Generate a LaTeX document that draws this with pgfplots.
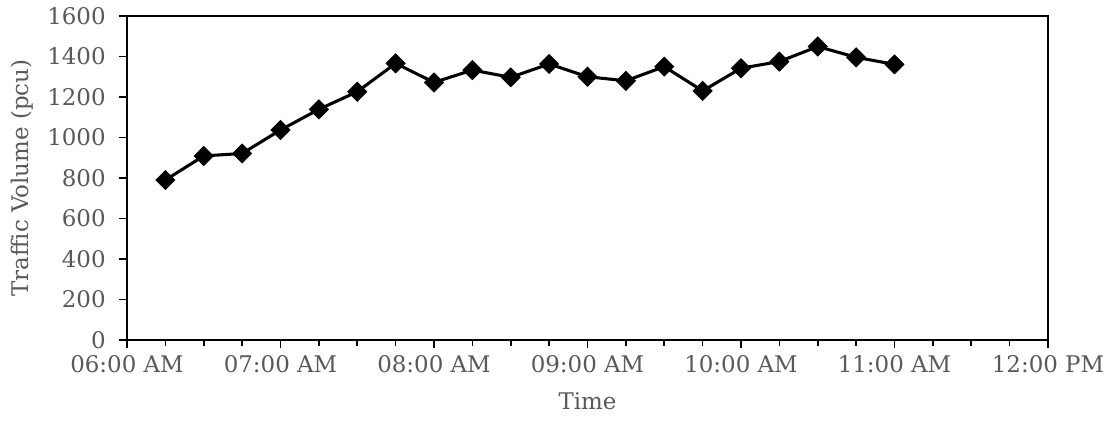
\documentclass[border=0pt]{standalone}
\usepackage{pgfplots}
\pgfplotsset{compat=1.18}
\usepackage{fontspec}
\setmainfont{DejaVu Serif}
\definecolor{txtgray}{HTML}{595959}
\begin{document}
\begin{tikzpicture}
\begin{axis}[
  name=ax,
  scale only axis,
  width=690.75pt, height=243pt,
  xmin=6, xmax=12, ymin=0, ymax=1600,
  xtick={6,7,8,9,10,11,12},
  xticklabels={06:00 AM,07:00 AM,08:00 AM,09:00 AM,10:00 AM,11:00 AM,12:00 PM},
  minor x tick num=3,
  ytick={0,200,...,1600},
  axis line style={black, line width=1.2pt},
  tick style={black, line width=1.2pt},
  major tick length=6pt,
  minor tick length=4.5pt,
  tick align=outside,
  xtick pos=bottom, ytick pos=left,
  tick label style={font=\fontsize{17.2pt}{19pt}\selectfont, text=txtgray},
  /pgf/number format/assume math mode=true,
  /pgf/number format/1000 sep={},
  xticklabel shift=2pt,
  yticklabel shift=6.5pt,
  xlabel={Time}, ylabel={Traffic Volume (pcu)},
  label style={font=\fontsize{17.2pt}{19pt}\selectfont, text=txtgray},
  xlabel style={at={(axis description cs:0.5,0)}, anchor=north, yshift=-36pt},
  ylabel style={at={(axis description cs:0,0.5)}, anchor=south, rotate=0, xshift=0pt, yshift=67pt},
  clip=false,
]
\addplot[black, line width=2.3pt, mark=square*, mark size=5.1pt, mark options={rotate=45, line width=0.5pt, fill=black}]
coordinates {
(6.25,790) (6.5,909) (6.75,921) (7,1037) (7.25,1139) (7.5,1226) (7.75,1366)
(8,1272) (8.25,1333) (8.5,1297) (8.75,1363) (9,1300) (9.25,1280) (9.5,1350)
(9.75,1230) (10,1342) (10.25,1375) (10.5,1449) (10.75,1396) (11,1361)
};
\end{axis}
\pgfresetboundingbox
\path ([shift={(-95.25pt,-62.25pt)}]ax.south west) rectangle ([shift={(49.5pt,12pt)}]ax.north east);
\end{tikzpicture}
\end{document}
